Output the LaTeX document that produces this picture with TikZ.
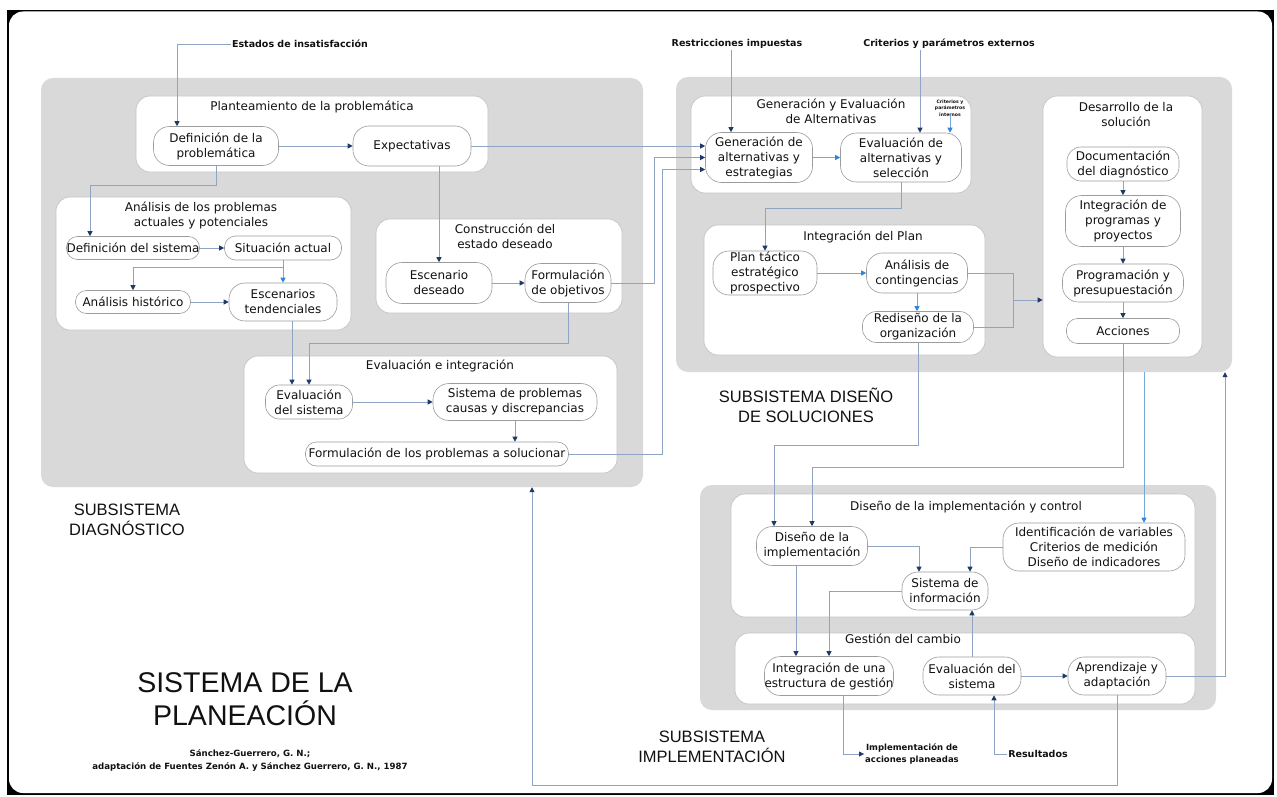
\documentclass[tikz,border=0pt]{standalone}
\usepackage{fontspec}
\setmainfont{DejaVu Sans}
\newfontfamily\lib{Liberation Sans}
\usetikzlibrary{arrows.meta,calc}
\definecolor{gfill}{HTML}{D9D9D9}
\definecolor{wbd}{HTML}{C4C4C4}
\definecolor{ndb}{HTML}{9C9C9C}
\definecolor{lnc}{HTML}{8FA3C2}
\definecolor{tipc}{HTML}{1F3A66}
\definecolor{lnl}{HTML}{74A9DE}
\definecolor{tipl}{HTML}{2E86DE}
\definecolor{txt}{HTML}{111111}
\begin{document}
\begin{tikzpicture}[x=1pt,y=-1pt,
  gbox/.style={fill=gfill, draw=none, rounded corners=12pt, inner sep=0pt},
  wbox/.style={fill=white, draw=wbd, line width=0.7pt, rounded corners=14pt, inner sep=0pt},
  nd/.style={draw=ndb, line width=0.6pt, fill=white, rounded corners=11pt, align=center, inner sep=0pt, font=\fontsize{12}{15}\selectfont, text=txt},
  pill/.style={rounded corners=16pt},
  pillm/.style={rounded corners=14pt},
  sz/.style 2 args={minimum width=#1, minimum height=#2},
  ttl/.style={align=center, inner sep=0pt, font=\fontsize{12}{15}\selectfont, text=txt},
  lab/.style={align=center, inner sep=1pt, font=\bfseries\fontsize{9.5}{11}\selectfont, text=txt},
  sub/.style={align=center, inner sep=0pt, font=\lib\fontsize{16.5}{20}\selectfont, text=txt},
  arr/.style={draw=lnc, line width=0.8pt, -{Triangle[length=5pt,width=5pt,color=tipc]}},
  arrl/.style={draw=lnl, line width=0.8pt, -{Triangle[length=5pt,width=5pt,color=tipl]}},
  ln/.style={draw=lnc, line width=0.8pt}
]
\useasboundingbox (0,0) rectangle (1277,797);
% frame
\fill[black] (7,10) rectangle (1274,795);
\fill[white, rounded corners=14pt] (9,11.5) rectangle (1272,793);

% gray subsystem boxes
\node[gbox, sz={602}{409}] (gD) at (342,282.5) {};
\node[gbox, sz={556}{295}] (gS) at (954,224.5) {};
\node[gbox, sz={516}{225}] (gI) at (958,597.5) {};

% white group boxes
\node[wbox, sz={352}{76}] (plan) at (312,134) {};
\node[wbox, sz={295}{133}] (anal) at (203.5,263.5) {};
\node[wbox, sz={246}{94}] (cons) at (499,266) {};
\node[wbox, sz={373}{117}] (evai) at (430.5,414.5) {};
\node[wbox, sz={280}{97}] (gen) at (831,144.5) {};
\node[wbox, sz={281}{130}] (intg) at (844.5,290) {};
\node[wbox, sz={159}{261}] (desa) at (1122.5,226.5) {};
\node[wbox, sz={464}{123}] (dimc) at (963,555.5) {};
\node[wbox, sz={460}{71}] (gest) at (965,668.5) {};

% group titles
\node[ttl] (t1) at (312,107) {Planteamiento de la problemática};
\node[ttl] (t2) at (201,215.5) {Análisis de los problemas\\actuales y potenciales};
\node[ttl] (t3) at (505,236.5) {Construcción del\\estado deseado};
\node[ttl] (t4) at (440,366) {Evaluación e integración};
\node[ttl] (t5) at (831,111.5) {Generación y Evaluación\\de Alternativas};
\node[ttl] (t6) at (863,237) {Integración del Plan};
\node[ttl] (t7) at (1126,114.5) {Desarrollo de la\\solución};
\node[ttl] (t8) at (966,507) {Diseño de la implementación y control};
\node[ttl] (t9) at (903,639) {Gestión del cambio};

% nodes: diagnostico
\node[nd, pill, sz={125}{39}] (defp) at (216,146) {Definición de la\\problemática};
\node[nd, pill, sz={118}{40}] (expe) at (412,146) {Expectativas};
\node[nd, sz={133}{23}] (defs) at (133,248) {Definición del sistema};
\node[nd, sz={117}{24}] (sita) at (283,248) {Situación actual};
\node[nd, sz={115}{23}] (anah) at (133,302) {Análisis histórico};
\node[nd, pill, sz={108}{38}] (esct) at (283,302) {Escenarios\\tendenciales};
\node[nd, pill, sz={106}{41}] (escd) at (439,283) {Escenario\\deseado};
\node[nd, pill, sz={86}{39}] (fobj) at (568,283) {Formulación\\de objetivos};
\node[nd, pillm, sz={87}{34}] (evs) at (309,402) {Evaluación\\del sistema};
\node[nd, pill, sz={164}{37}] (sprob) at (515,402) {Sistema de problemas\\causas y discrepancias};
\node[nd, sz={263}{24}] (fprob) at (437,454) {Formulación de los problemas a solucionar};

% nodes: diseno
\node[nd, pill, sz={107}{50}] (gena) at (759,157.5) {Generación de\\alternativas y\\estrategias};
\node[nd, pill, sz={121}{49}] (evaa) at (901,157.5) {Evaluación de\\alternativas y\\selección};
\node[nd, pill, sz={104}{44}] (plant) at (765,273) {Plan táctico\\estratégico\\prospectivo};
\node[nd, pill, sz={101}{40}] (anac) at (917,273) {Análisis de\\contingencias};
\node[nd, pillm, sz={111}{31}] (rdis) at (918,327) {Rediseño de la\\organización};
\node[nd, pillm, sz={112}{34}] (docu) at (1123,164) {Documentación\\del diagnóstico};
\node[nd, pill, sz={115}{51}] (intp) at (1123,221) {Integración de\\programas y\\proyectos};
\node[nd, pill, sz={121}{38}] (prog) at (1123,283) {Programación y\\presupuestación};
\node[nd, sz={113}{25}] (acci) at (1123,331) {Acciones};

% nodes: implementacion
\node[nd, pill, sz={111}{39}] (dimp) at (812,546) {Diseño de la\\implementación};
\node[nd, pill, sz={182}{48}] (iden) at (1094,547) {Identificación de variables\\Criterios de medición\\Diseño de indicadores};
\node[nd, pill, sz={86}{38}] (sinf) at (945,591) {Sistema de\\información};
\node[nd, pill, sz={129}{39}] (inte) at (829,676) {Integración de una\\estructura de gestión};
\node[nd, pill, sz={98}{38}] (evsi) at (972,676) {Evaluación del\\sistema};
\node[nd, pill, sz={98}{38}] (apre) at (1117,676) {Aprendizaje y\\adaptación};

% external labels
\node[lab] (est) at (300,44) {Estados de insatisfacción};
\node[lab] (res) at (737,44) {Restricciones impuestas};
\node[lab] (cre) at (949,44) {Criterios y parámetros externos};
\node[lab, font=\bfseries\fontsize{4.6}{6.5}\selectfont, inner sep=0pt] (cri) at (950,108) {Criterios y\\parámetros\\internos};
\node[lab, font=\bfseries\fontsize{8.5}{12}\selectfont] (impl) at (912,754) {Implementación de\\acciones planeadas};
\node[lab] (resu) at (1038,754) {Resultados};

% subsystem titles
\node[sub] (s1) at (127,520) {SUBSISTEMA\\DIAGNÓSTICO};
\node[sub] (s2) at (806,405) {SUBSISTEMA DISEÑO\\DE SOLUCIONES};
\node[sub] (s3) at (712,747) {SUBSISTEMA\\IMPLEMENTACIÓN};
\node[sub, font=\lib\fontsize{28.5}{33}\selectfont] (big) at (245,699.5) {SISTEMA DE LA\\PLANEACIÓN};
\node[lab, font=\bfseries\fontsize{8.6}{13}\selectfont] (cred) at (250,760.5) {Sánchez-Guerrero, G. N.;\\adaptación de Fuentes Zenón A. y Sánchez Guerrero, G. N., 1987};

% helper coordinates
\coordinate (x731) at (731,0);
\coordinate (x920) at (920,0);
\coordinate (x1144) at (1144,0);
\coordinate (x1225) at (1225,0);
\coordinate (x532) at (532,0);
\coordinate (x796) at (796,0);
\coordinate (x843) at (843,0);
\coordinate (x994) at (994,0);
\coordinate (h467) at (0,467);
\coordinate (h445) at (0,445);
\coordinate (h785) at (0,785);
\coordinate (j1) at (1013,300);

% connectors: diagnostico
\draw[arr] (est.west) -| ([xshift=-39pt]defp.north);
\draw[arr] (defp.east) -- (expe.west);
\draw[arr] (defp.south) -- ++(0,19.5) -| ([xshift=-43pt]defs.north);
\draw[arr] (expe.south -| escd.north) -- (escd.north);
\draw[arr] (defs.east) -- (sita.west);
\draw[arr] (sita.south) -- ++(0,7) -| (anah.north);
\draw[arrl] (sita.south) -- (esct.north);
\draw[arr] (anah.east) -- (esct.west);
\draw[arr] ([xshift=9pt]esct.south) -- ([xshift=-17pt]evs.north);
\draw[arr] (fobj.south) -- ++(0,40.5) -| (evs.north);
\draw[arr] (escd.east) -- (fobj.west);
\draw[arr] (evs.east) -- (sprob.west);
\draw[arr] (sprob.south) -- (sprob.south |- fprob.north);

% connectors: to diseno
\draw[arr] (expe.east) -- ([yshift=11.5pt]gena.west);
\draw[arr] (fobj.east) -- ++(43,0) |- (gena.west);
\draw[arr] (fprob.east) -- ++(93.5,0) |- ([yshift=-12pt]gena.west);
\draw[arr] (res.south -| x731) -- (gena.north -| x731);
\draw[arr] (cre.south -| x920) -- (evaa.north -| x920);
\draw[arrl] (cri.south) -- (cri.south |- evaa.north);
\draw[arrl] (gena.east) -- (evaa.west);
\draw[arr] (evaa.south) -- ++(0,26.5) -| (plant.north);
\draw[arrl] (plant.east) -- (anac.west);
\draw[arrl] (anac.south) -- (anac.south |- rdis.north);
\draw[ln] (anac.east) -| (j1) |- (rdis.east);
\draw[arr] (j1) -- (j1 -| desa.west);
\draw[arr] (docu.south) -- (intp.north);
\draw[arr] (intp.south) -- (prog.north);
\draw[arr] (prog.south) -- (acci.north);

% connectors: to implementacion
\draw[arr] (acci.south) -- (acci.south |- h467) -| (dimp.north);
\draw[arr] (rdis.south) -- (rdis.south |- h445) -| ([xshift=-38pt]dimp.north);
\draw[arrl] (gS.south -| x1144) -- (iden.north -| x1144);
\draw[arr] (apre.east) -| (gS.south -| x1225);
\draw[arr] (apre.south) -- (apre.south |- h785) -| (gD.south -| x532);
\draw[arr] (dimp.east) -| ([xshift=-26pt]sinf.north);
\draw[arr] (iden.west) -| ([xshift=25pt]sinf.north);
\draw[arr] (sinf.west) -| (inte.north);
\draw[arr] (dimp.south -| x796) -- (inte.north -| x796);
\draw[arr] (evsi.north) -- (evsi.north |- sinf.south);
\draw[arr] (evsi.east) -- (apre.west);
\draw[arr] (inte.south -| x843) |- (impl.west);
\draw[arr] (resu.west) -| (evsi.south -| x994);
\end{tikzpicture}
\end{document}
